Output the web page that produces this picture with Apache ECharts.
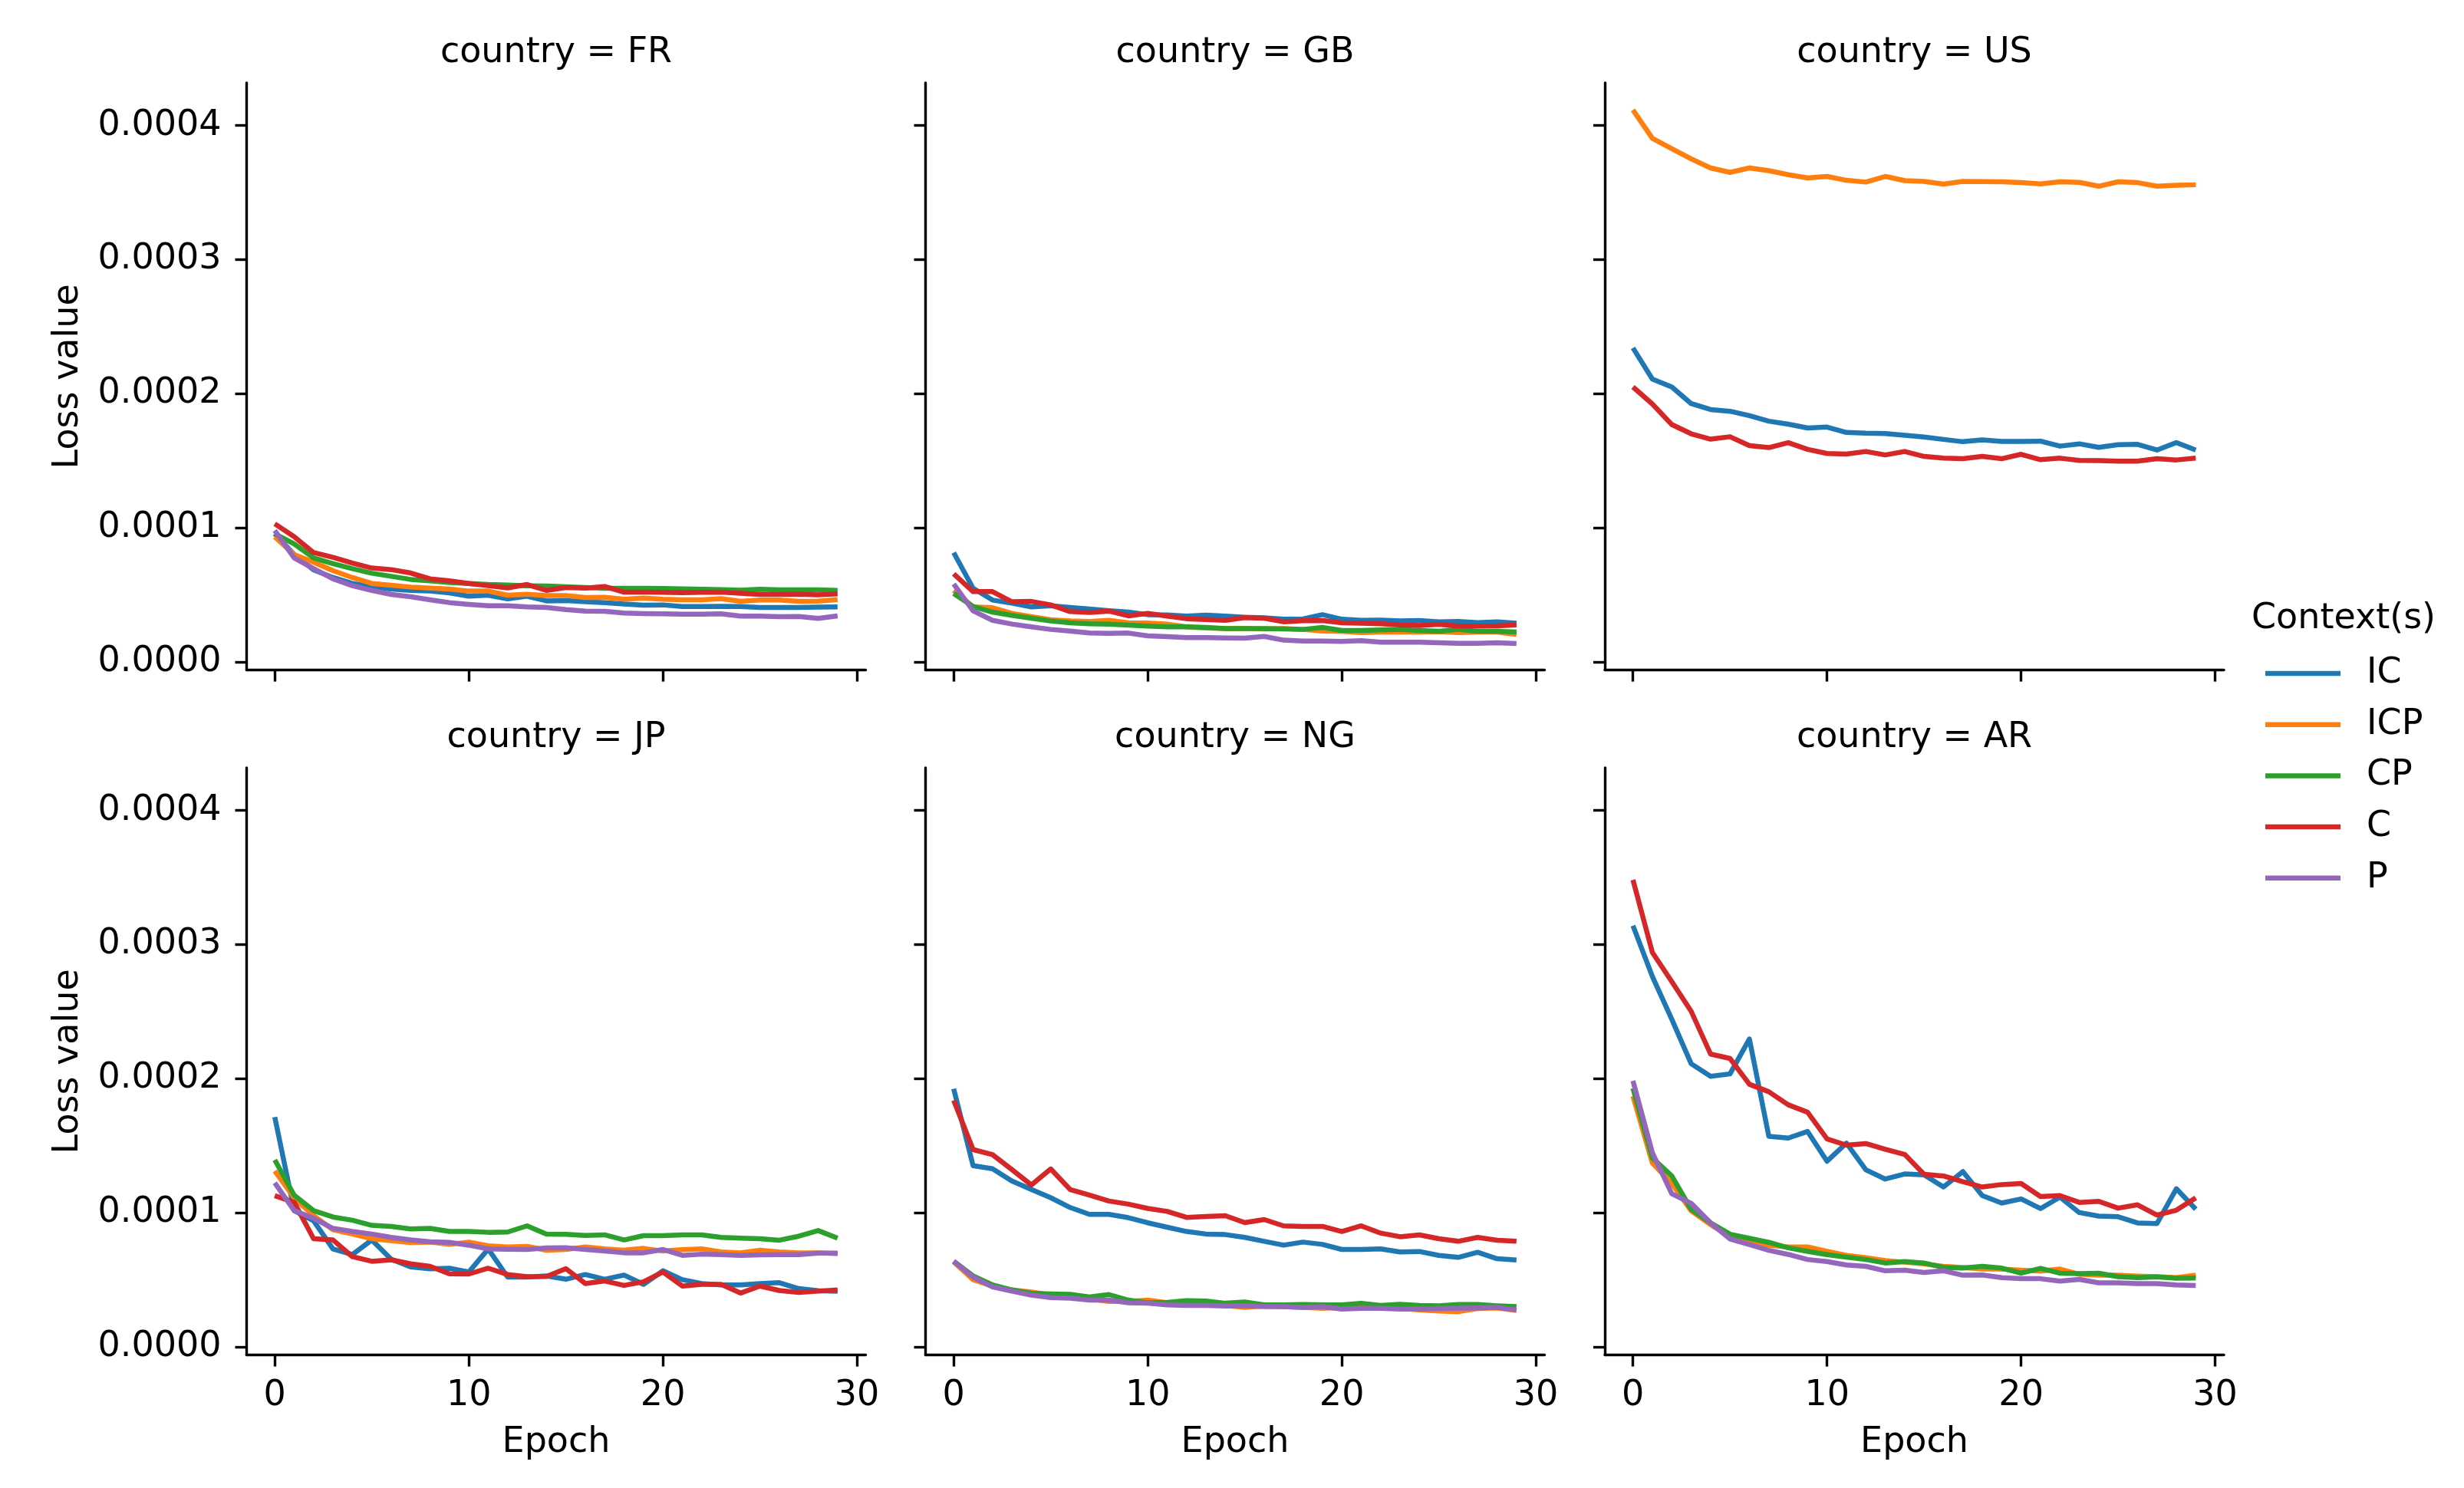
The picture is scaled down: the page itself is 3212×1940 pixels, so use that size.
<!DOCTYPE html>
<html>
<head>
<meta charset="utf-8">
<script src="https://cdn.jsdelivr.net/npm/echarts@6/dist/echarts.min.js"></script>
<style>
html,body{margin:0;padding:0;background:#fff;}
#chart{width:3212px;height:1940px;}
</style>
</head>
<body>
<div id="chart"></div>
<script>
// Loss values are stored in units of 1e-4 (axis labels convert back).
const EPOCHS = [0,1,2,3,4,5,6,7,8,9,10,11,12,13,14,15,16,17,18,19,20,21,22,23,24,25,26,27,28,29];
const CONTEXTS = ['IC','ICP','CP','C','P'];
const COUNTRIES = ['FR','GB','US','JP','NG','AR'];
const Y_TICKS = [0,1,2,3,4];
const X_TICKS = [0,10,20,30];

const FR_IC  = [0.956,0.80,0.686,0.629,0.585,0.562,0.543,0.533,0.528,0.514,0.49,0.497,0.47,0.49,0.455,0.457,0.448,0.442,0.432,0.423,0.425,0.413,0.413,0.415,0.413,0.406,0.406,0.406,0.408,0.41];
const FR_ICP = [0.933,0.80,0.743,0.68,0.629,0.585,0.571,0.558,0.55,0.543,0.528,0.528,0.497,0.505,0.495,0.495,0.48,0.482,0.467,0.476,0.467,0.463,0.463,0.472,0.451,0.461,0.461,0.451,0.453,0.465];
const FR_CP  = [0.956,0.88,0.775,0.733,0.695,0.661,0.638,0.615,0.604,0.592,0.585,0.577,0.573,0.568,0.566,0.56,0.554,0.549,0.549,0.549,0.547,0.545,0.541,0.539,0.535,0.541,0.537,0.537,0.537,0.533];
const FR_C   = [1.03,0.933,0.815,0.78,0.737,0.70,0.688,0.663,0.619,0.604,0.585,0.568,0.552,0.577,0.533,0.554,0.55,0.562,0.52,0.52,0.518,0.516,0.518,0.52,0.512,0.503,0.503,0.505,0.50,0.507];
const FR_P   = [0.98,0.775,0.695,0.619,0.568,0.533,0.503,0.486,0.463,0.442,0.429,0.419,0.419,0.41,0.406,0.39,0.379,0.377,0.364,0.36,0.358,0.356,0.356,0.358,0.341,0.341,0.337,0.339,0.324,0.343];

const GB_IC  = [0.815,0.549,0.461,0.438,0.41,0.419,0.406,0.394,0.381,0.371,0.352,0.35,0.341,0.349,0.341,0.333,0.328,0.318,0.32,0.352,0.318,0.31,0.312,0.305,0.309,0.299,0.301,0.293,0.299,0.288];
const GB_ICP = [0.533,0.41,0.404,0.362,0.337,0.314,0.305,0.301,0.31,0.291,0.29,0.282,0.261,0.253,0.248,0.25,0.246,0.248,0.242,0.23,0.229,0.219,0.223,0.223,0.223,0.225,0.219,0.223,0.223,0.204];
const GB_CP  = [0.51,0.413,0.371,0.347,0.326,0.305,0.291,0.284,0.282,0.274,0.267,0.261,0.261,0.257,0.248,0.248,0.248,0.246,0.242,0.257,0.234,0.234,0.238,0.242,0.234,0.229,0.242,0.229,0.229,0.223];
const GB_C   = [0.657,0.524,0.524,0.448,0.451,0.425,0.375,0.368,0.379,0.343,0.362,0.341,0.322,0.316,0.31,0.33,0.326,0.299,0.307,0.309,0.291,0.288,0.284,0.276,0.272,0.28,0.267,0.267,0.269,0.276];
const GB_P   = [0.581,0.381,0.31,0.282,0.261,0.242,0.23,0.215,0.213,0.215,0.194,0.189,0.181,0.181,0.179,0.177,0.19,0.162,0.156,0.156,0.152,0.158,0.147,0.147,0.147,0.143,0.139,0.139,0.143,0.137];

const US_IC  = [2.341,2.109,2.050,1.926,1.882,1.869,1.836,1.795,1.773,1.744,1.751,1.711,1.705,1.703,1.690,1.677,1.659,1.642,1.655,1.644,1.644,1.646,1.609,1.626,1.600,1.620,1.622,1.580,1.635,1.580];
const US_ICP = [4.116,3.904,3.827,3.751,3.683,3.650,3.683,3.663,3.633,3.609,3.620,3.591,3.578,3.620,3.589,3.583,3.563,3.583,3.582,3.580,3.574,3.565,3.580,3.576,3.547,3.580,3.574,3.547,3.554,3.558];
const US_C   = [2.050,1.923,1.770,1.701,1.661,1.679,1.613,1.598,1.635,1.585,1.554,1.550,1.569,1.543,1.569,1.532,1.519,1.515,1.532,1.515,1.548,1.508,1.519,1.503,1.501,1.497,1.497,1.515,1.506,1.519];

const JP_IC  = [1.713,1.016,0.940,0.730,0.688,0.797,0.653,0.596,0.581,0.586,0.558,0.730,0.520,0.520,0.529,0.504,0.539,0.504,0.535,0.466,0.567,0.501,0.472,0.462,0.462,0.472,0.478,0.434,0.418,0.415];
const JP_ICP = [1.312,1.112,0.978,0.873,0.841,0.806,0.791,0.777,0.781,0.764,0.781,0.753,0.745,0.749,0.720,0.726,0.745,0.730,0.720,0.734,0.714,0.724,0.730,0.707,0.701,0.720,0.707,0.701,0.701,0.695];
const JP_CP  = [1.394,1.131,1.016,0.968,0.944,0.906,0.898,0.879,0.883,0.860,0.860,0.854,0.856,0.902,0.840,0.839,0.831,0.835,0.797,0.829,0.829,0.835,0.835,0.816,0.810,0.806,0.795,0.825,0.867,0.810];
const JP_C   = [1.127,1.077,0.806,0.797,0.672,0.638,0.649,0.619,0.600,0.544,0.543,0.586,0.539,0.523,0.525,0.583,0.472,0.491,0.458,0.485,0.558,0.453,0.466,0.466,0.401,0.453,0.420,0.405,0.415,0.424];
const JP_P   = [1.223,1.016,0.959,0.883,0.860,0.841,0.816,0.797,0.783,0.779,0.758,0.730,0.728,0.726,0.737,0.739,0.726,0.714,0.701,0.701,0.726,0.682,0.691,0.688,0.682,0.686,0.688,0.688,0.699,0.699];

const NG_IC  = [1.924,1.351,1.328,1.236,1.173,1.112,1.039,0.988,0.988,0.963,0.925,0.892,0.860,0.841,0.837,0.816,0.787,0.758,0.781,0.764,0.726,0.726,0.730,0.707,0.711,0.682,0.667,0.705,0.657,0.648];
const NG_ICP = [0.634,0.501,0.453,0.424,0.409,0.386,0.376,0.357,0.338,0.338,0.348,0.329,0.319,0.313,0.309,0.294,0.306,0.300,0.294,0.287,0.294,0.290,0.287,0.287,0.275,0.267,0.262,0.285,0.290,0.271];
const NG_CP  = [0.638,0.529,0.462,0.424,0.399,0.395,0.392,0.371,0.390,0.348,0.329,0.332,0.344,0.342,0.325,0.334,0.313,0.313,0.315,0.313,0.313,0.325,0.309,0.317,0.309,0.306,0.315,0.315,0.306,0.300];
const NG_C   = [1.838,1.471,1.433,1.322,1.207,1.326,1.173,1.131,1.087,1.064,1.032,1.010,0.965,0.972,0.978,0.926,0.949,0.902,0.898,0.898,0.860,0.902,0.848,0.821,0.835,0.806,0.787,0.816,0.795,0.787];
const NG_P   = [0.638,0.520,0.447,0.415,0.386,0.367,0.363,0.348,0.348,0.329,0.325,0.313,0.309,0.309,0.304,0.306,0.300,0.300,0.294,0.300,0.281,0.287,0.287,0.281,0.281,0.285,0.287,0.290,0.294,0.275];

const AR_IC  = [3.140,2.762,2.443,2.111,2.017,2.035,2.295,1.570,1.557,1.606,1.384,1.519,1.320,1.251,1.289,1.282,1.192,1.307,1.128,1.072,1.103,1.031,1.116,1.001,0.975,0.970,0.924,0.919,1.179,1.026];
const AR_ICP = [1.869,1.371,1.218,1.014,0.911,0.822,0.784,0.758,0.745,0.745,0.712,0.682,0.664,0.643,0.631,0.618,0.600,0.592,0.580,0.580,0.572,0.564,0.580,0.541,0.534,0.534,0.528,0.523,0.516,0.534];
const AR_CP  = [1.928,1.409,1.274,1.026,0.924,0.840,0.809,0.779,0.738,0.712,0.687,0.669,0.651,0.625,0.636,0.625,0.592,0.587,0.600,0.587,0.549,0.585,0.549,0.546,0.549,0.523,0.516,0.521,0.511,0.513];
const AR_C   = [3.482,2.941,2.724,2.502,2.183,2.150,1.958,1.902,1.805,1.749,1.550,1.504,1.516,1.473,1.435,1.287,1.274,1.231,1.192,1.210,1.218,1.121,1.128,1.077,1.085,1.034,1.059,0.983,1.019,1.111];
const AR_P   = [1.984,1.448,1.141,1.070,0.924,0.804,0.763,0.720,0.689,0.651,0.636,0.610,0.600,0.567,0.572,0.554,0.567,0.534,0.536,0.516,0.508,0.508,0.490,0.503,0.477,0.477,0.472,0.472,0.462,0.457];

const PANEL_DATA = {
  FR: {IC: FR_IC, ICP: FR_ICP, CP: FR_CP, C: FR_C, P: FR_P},
  GB: {IC: GB_IC, ICP: GB_ICP, CP: GB_CP, C: GB_C, P: GB_P},
  US: {IC: US_IC, ICP: US_ICP, C: US_C},
  JP: {IC: JP_IC, ICP: JP_ICP, CP: JP_CP, C: JP_C, P: JP_P},
  NG: {IC: NG_IC, ICP: NG_ICP, CP: NG_CP, C: NG_C, P: NG_P},
  AR: {IC: AR_IC, ICP: AR_ICP, CP: AR_CP, C: AR_C, P: AR_P}
};

const COLORS = {IC:'#1f77b4', ICP:'#ff7f0e', CP:'#2ca02c', C:'#d62728', P:'#9467bd'};
const FONT = 'DejaVu Sans';
const FS = 46;
const INK = '#000';

// layout (pixels)
const COL_LEFT = [321.5, 1206.5, 2092];
const ROW_TOP = [108, 1001];
const PW = 807, PH = 765.6;

const grids = [], xAxes = [], yAxes = [], series = [], graphics = [];

COUNTRIES.forEach((c, k) => {
  const row = Math.floor(k / 3), col = k % 3;
  grids.push({left: COL_LEFT[col], top: ROW_TOP[row], width: PW, height: PH, containLabel: false});
  xAxes.push({
    type: 'value', gridIndex: k, min: -1.45, max: 30.45,
    axisLine: {show: true, onZero: false, lineStyle: {color: INK, width: 3.4}},
    axisTick: {show: true, length: 15, lineStyle: {color: INK, width: 3.4}, customValues: X_TICKS},
    axisLabel: {show: row === 1, customValues: X_TICKS, fontSize: FS, fontFamily: FONT, color: INK, margin: 30},
    splitLine: {show: false}
  });
  yAxes.push({
    type: 'value', gridIndex: k, min: -0.061, max: 4.318,
    axisLine: {show: true, onZero: false, lineStyle: {color: INK, width: 3.4}},
    axisTick: {show: true, length: 15, lineStyle: {color: INK, width: 3.4}, customValues: Y_TICKS},
    axisLabel: {show: col === 0, customValues: Y_TICKS, fontSize: FS, fontFamily: FONT, color: INK, margin: 33,
      formatter: v => (v * 1e-4).toFixed(4)},
    splitLine: {show: false}
  });
  CONTEXTS.forEach(ctx => {
    const arr = PANEL_DATA[c][ctx];
    if (!arr) return;
    series.push({
      type: 'line', name: ctx, xAxisIndex: k, yAxisIndex: k,
      data: EPOCHS.map((e, i) => [e, arr[i]]),
      symbol: 'none', showSymbol: false, animation: false,
      lineStyle: {color: COLORS[ctx], width: 6.5, join: 'round', cap: 'butt'},
      itemStyle: {color: COLORS[ctx]},
      emphasis: {disabled: true}
    });
  });
  const cx = COL_LEFT[col] + PW / 2;
  graphics.push({type: 'text', x: cx, y: ROW_TOP[row] - 39, silent: true,
    style: {text: 'country = ' + c, font: FS + 'px "' + FONT + '"', fill: INK, align: 'center', verticalAlign: 'middle'}});
  if (row === 1) {
    graphics.push({type: 'text', x: cx, y: 1881, silent: true,
      style: {text: 'Epoch', font: FS + 'px "' + FONT + '"', fill: INK, align: 'center', verticalAlign: 'middle'}});
  }
  if (col === 0) {
    graphics.push({type: 'text', x: 89, y: ROW_TOP[row] + PH / 2, rotation: Math.PI / 2, silent: true,
      style: {text: 'Loss value', font: FS + 'px "' + FONT + '"', fill: INK, align: 'center', verticalAlign: 'middle'}});
  }
});

graphics.push({type: 'text', x: 2935, y: 807, silent: true,
  style: {text: 'Context(s)', font: FS + 'px "' + FONT + '"', fill: INK, align: 'left', verticalAlign: 'middle'}});

const chart = echarts.init(document.getElementById('chart'), null, {renderer: 'canvas', width: 3212, height: 1940});
chart.setOption({
  backgroundColor: '#fff',
  animation: false,
  grid: grids,
  xAxis: xAxes,
  yAxis: yAxes,
  series: series,
  legend: {
    data: CONTEXTS, orient: 'vertical', left: 2948, top: 850,
    icon: 'rect', itemWidth: 98, itemHeight: 6.5, itemGap: 20.7,
    selectedMode: false,
    textStyle: {fontSize: FS, fontFamily: FONT, color: INK, lineHeight: 46, padding: [0, 0, 0, 29]}
  },
  graphic: graphics
});
</script>
</body>
</html>
